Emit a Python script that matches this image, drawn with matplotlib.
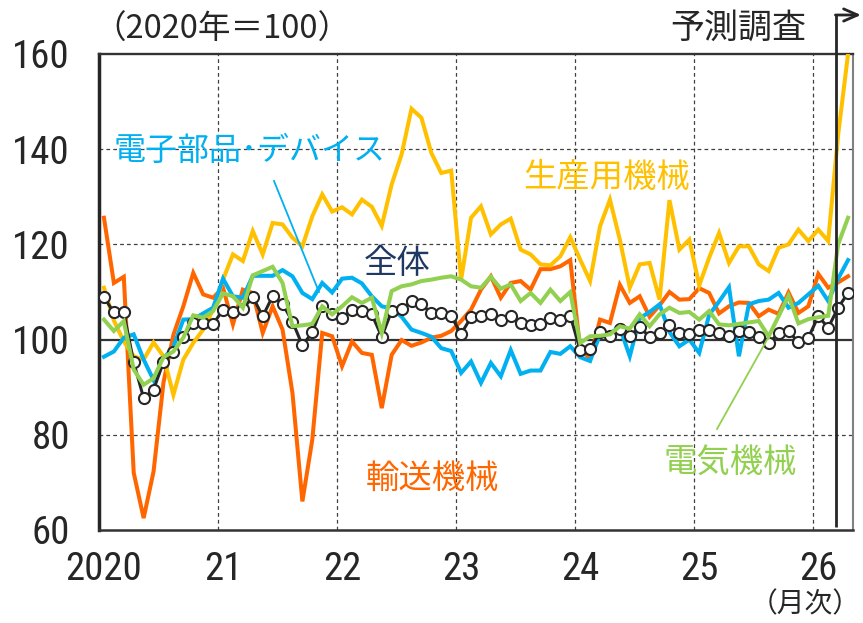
import matplotlib
matplotlib.use("Agg")
import matplotlib.pyplot as plt
import matplotlib.transforms as mtransforms
from matplotlib import font_manager

# ---------------- data (index 0 = Jan 2020, monthly) ----------------
year_labels = ["2020", "21", "22", "23", "24", "25", "26"]
y_ticks = [60, 80, 100, 120, 140, 160]

total = [108.9, 105.7, 105.7, 95.2, 87.7, 89.5, 95.3, 97.3, 100.5, 103.5, 103.5, 103.2,
         106.3, 105.9, 106.4, 109.0, 104.9, 109.1, 107.5, 103.8, 98.8, 101.5, 107.0, 105.4,
         104.6, 106.3, 106.0, 105.3, 100.6, 106.0, 106.4, 108.1, 107.4, 105.6, 105.6, 104.9,
         101.2, 104.7, 105.0, 105.3, 104.2, 105.0, 103.4, 103.0, 103.2, 104.6, 104.2, 105.0,
         97.8, 98.1, 101.5, 100.8, 102.2, 100.8, 102.6, 100.6, 101.4, 103.0, 101.4, 101.1,
         102.0, 102.1, 101.4, 100.7, 101.8, 101.5, 100.6, 99.3, 101.3, 101.8, 99.4, 100.4,
         104.9, 102.5, 106.7, 109.8]

electronic = [96.4, 97.5, 100.4, 101.1, 95.8, 91.5, 96.0, 98.5, 104.2, 104.3, 105.5, 106.7,
              112.8, 109.1, 108.8, 113.4, 113.4, 113.4, 114.6, 113.3, 109.8, 108.5, 111.9, 109.9,
              112.8, 113.0, 111.8, 109.1, 107.0, 106.5, 104.8, 102.1, 101.4, 100.6, 98.2, 97.6,
              93.0, 95.4, 90.9, 95.1, 92.3, 97.8, 92.8, 93.5, 93.5, 97.4, 97.0, 98.6,
              96.3, 95.5, 101.1, 101.4, 102.5, 96.5, 104.5, 105.8, 107.4, 101.6, 98.6, 100.0,
              97.2, 105.2, 108.0, 111.0, 96.5, 107.4, 108.1, 108.4, 109.8, 106.7, 107.7, 109.5,
              111.3, 108.1, 112.8, 116.7]

electrical = [104.2, 101.8, 103.9, 93.7, 90.5, 91.9, 96.3, 97.5, 100.4, 105.1, 104.6, 106.0,
              109.7, 109.1, 106.7, 113.5, 114.4, 115.3, 111.9, 102.8, 103.0, 103.3, 107.0, 105.3,
              107.0, 108.9, 107.7, 108.8, 101.4, 110.2, 111.2, 111.6, 112.3, 112.6, 113.0, 113.3,
              112.6, 111.2, 110.9, 113.2, 110.7, 111.6, 108.1, 109.8, 107.7, 110.5, 108.1, 110.0,
              99.3, 100.7, 100.8, 101.1, 102.8, 102.3, 105.3, 102.8, 105.3, 106.7, 105.6, 105.8,
              104.2, 106.0, 103.2, 103.0, 103.3, 103.6, 103.9, 100.7, 104.9, 109.2, 103.4, 104.3,
              104.7, 105.0, 120.0, 125.6]

production = [110.9, 104.0, 99.6, 96.5, 95.8, 99.4, 96.5, 88.4, 95.8, 99.3, 102.1, 106.3,
              112.6, 117.9, 116.5, 122.8, 117.9, 124.5, 124.2, 121.4, 119.6, 125.9, 130.5, 126.9,
              127.8, 126.3, 129.4, 127.9, 123.9, 132.6, 138.9, 148.5, 146.6, 139.2, 135.0, 135.5,
              112.6, 125.6, 128.0, 122.1, 124.2, 125.4, 118.9, 117.9, 115.8, 115.6, 117.5, 121.5,
              116.8, 112.3, 123.8, 129.4, 121.0, 110.9, 115.8, 116.1, 108.4, 129.3, 118.9, 121.0,
              111.4, 117.2, 122.4, 116.1, 119.6, 119.6, 115.8, 114.4, 119.3, 120.0, 123.1, 120.7,
              123.1, 120.7, 143.0, 160.0]

transport = [125.6, 111.9, 113.2, 72.0, 62.5, 72.3, 91.0, 101.0, 107.0, 114.0, 109.5, 108.8,
             110.9, 103.2, 110.5, 109.8, 101.4, 107.0, 102.1, 88.8, 66.0, 79.0, 101.4, 100.7,
             94.4, 99.6, 97.2, 96.8, 85.6, 96.8, 99.9, 98.7, 99.4, 100.4, 100.8, 101.8,
             103.9, 106.3, 110.5, 113.3, 108.8, 111.9, 112.3, 110.5, 114.8, 114.8, 115.4, 116.7,
             98.0, 96.0, 104.2, 103.5, 111.5, 107.7, 109.1, 104.8, 107.2, 110.0, 108.4, 108.5,
             110.8, 109.8, 105.5, 107.0, 107.8, 107.7, 104.9, 106.3, 105.4, 109.9, 105.6, 107.0,
             113.8, 110.9, 112.0, 113.3]

forecast_start = 73.8  # position of the 予測調査 divider (months from Jan 2020)

# ---------------- fonts ----------------
CJK = ["Noto Sans CJK JP", "DejaVu Sans"]

def pick_number_font():
    # prefer a narrow / condensed sans face for the axis numbers
    for key in ("LiberationSansNarrow-Regular", "LiberationSansNarrow", "ArialNarrow",
                "RobotoCondensed-Regular", "OpenSansCondensed", "DejaVuSansCondensed.ttf"):
        for f in font_manager.fontManager.ttflist:
            fn = f.fname.replace(" ", "")
            if key.lower() in fn.lower() and "bold" not in fn.lower() and "italic" not in fn.lower():
                return font_manager.FontProperties(fname=f.fname), True
    return font_manager.FontProperties(family="Liberation Sans"), False

NUM_FP, NARROW = pick_number_font()
NUM_SIZE = 28 if NARROW else 24

# ---------------- figure ----------------
W, H = 863, 623
fig = plt.figure(figsize=(W / 100, H / 100), dpi=100)
ax = fig.add_axes([99 / W, 1 - 530 / H, (853 - 99) / W, (530 - 54) / H])

n = len(total)
x = list(range(n))

C_ORANGE = "#FF6600"
C_YELLOW = "#FFC000"
C_CYAN = "#00B0F0"
C_GREEN = "#92D050"
C_BLACK = "#262626"

lw = 2.9
ax.plot(x, transport, color=C_ORANGE, lw=lw, zorder=3, solid_joinstyle="miter")
ax.plot(x, production, color=C_YELLOW, lw=lw, zorder=4, solid_joinstyle="miter")
ax.plot(x, electronic, color=C_CYAN, lw=lw, zorder=5, solid_joinstyle="miter")
ax.plot(x, total, color=C_BLACK, lw=2.2, zorder=6, marker="o", markersize=8,
        markerfacecolor="white", markeredgecolor=C_BLACK, markeredgewidth=1.5)
ax.plot(x, electrical, color=C_GREEN, lw=lw, zorder=7, solid_joinstyle="miter")

ax.set_xlim(-0.5, 75.5)
ax.set_ylim(60, 160)

# ticks
ax.set_yticks(y_ticks)
ax.set_yticklabels([str(v) for v in y_ticks])
ax.set_xticks([12 * i for i in range(len(year_labels))])
ax.set_xticklabels(year_labels)
for lab in ax.get_xticklabels() + ax.get_yticklabels():
    lab.set_fontproperties(NUM_FP)
    lab.set_fontsize(NUM_SIZE)
ax.tick_params(axis="both", which="both", length=0)
ax.tick_params(axis="y", pad=21, colors="#262626")
ax.tick_params(axis="x", pad=15, colors="#262626")

# grid
ax.grid(False)
for v in [80, 120, 140]:
    ax.axhline(v, color="#404040", lw=0.9, ls=(0, (3, 2.5)), zorder=1)
for xv in [11.5 + 12 * i for i in range(6)]:
    ax.axvline(xv, color="#404040", lw=0.9, ls=(0, (3, 2.5)), zorder=1)
ax.axhline(100, color="#333333", lw=1.6, zorder=2)

# spines
for s, w, c in [("left", 2.5, "#262626"), ("bottom", 1.8, "#333333"),
                ("top", 1.7, "#333333"), ("right", 1.5, "#808080")]:
    ax.spines[s].set_linewidth(w)
    ax.spines[s].set_color(c)

# forecast divider with arrow
trans = mtransforms.blended_transform_factory(ax.transData, ax.transAxes)
ytop = (530 - 15) / 476
ax.plot([forecast_start, forecast_start], [0.006, ytop], color=C_BLACK, lw=2.0,
        transform=trans, clip_on=False, zorder=8, solid_capstyle="butt")
ax.annotate("", xy=(76.3, ytop), xytext=(forecast_start - 0.07, ytop),
            xycoords=trans, textcoords=trans,
            arrowprops=dict(arrowstyle="->,head_length=0.5,head_width=0.22",
                            lw=2.0, color=C_BLACK, mutation_scale=20,
                            shrinkA=0, shrinkB=0),
            annotation_clip=False, zorder=8)

# texts (figure pixel coordinates -> figure fraction)
def ftext(px, py, s, **kw):
    fig.text(px / W, 1 - py / H, s, ha="center", va="center", **kw)

ftext(738, 28, "予測調査", fontsize=24.5, family=CJK, color=C_BLACK)
ftext(222, 30, "（2020年＝100）", fontsize=23.5, family=CJK, color=C_BLACK)
ftext(805, 604, "（月次）", fontsize=20, family=CJK, color=C_BLACK)

ftext(250, 151, "電子部品･デバイス", fontsize=23, family=CJK, color=C_CYAN)
ftext(607, 177, "生産用機械", fontsize=24, family=CJK, color=C_YELLOW)
ftext(397, 264, "全体", fontsize=24, family=CJK, color="#1F3864")
ftext(432, 478, "輸送機械", fontsize=24, family=CJK, color=C_ORANGE)
ftext(730, 462, "電気機械", fontsize=24, family=CJK, color=C_GREEN)

# leader lines (figure pixel coords)
def fline(p0, p1, color):
    fig.add_artist(plt.Line2D([p0[0] / W, p1[0] / W], [1 - p0[1] / H, 1 - p1[1] / H],
                              color=color, lw=1.3, transform=fig.transFigure, zorder=9))
fline((274, 181), (319, 292), C_CYAN)
fline((717, 429), (768, 338), C_GREEN)

fig.savefig("out.png", dpi=100)
